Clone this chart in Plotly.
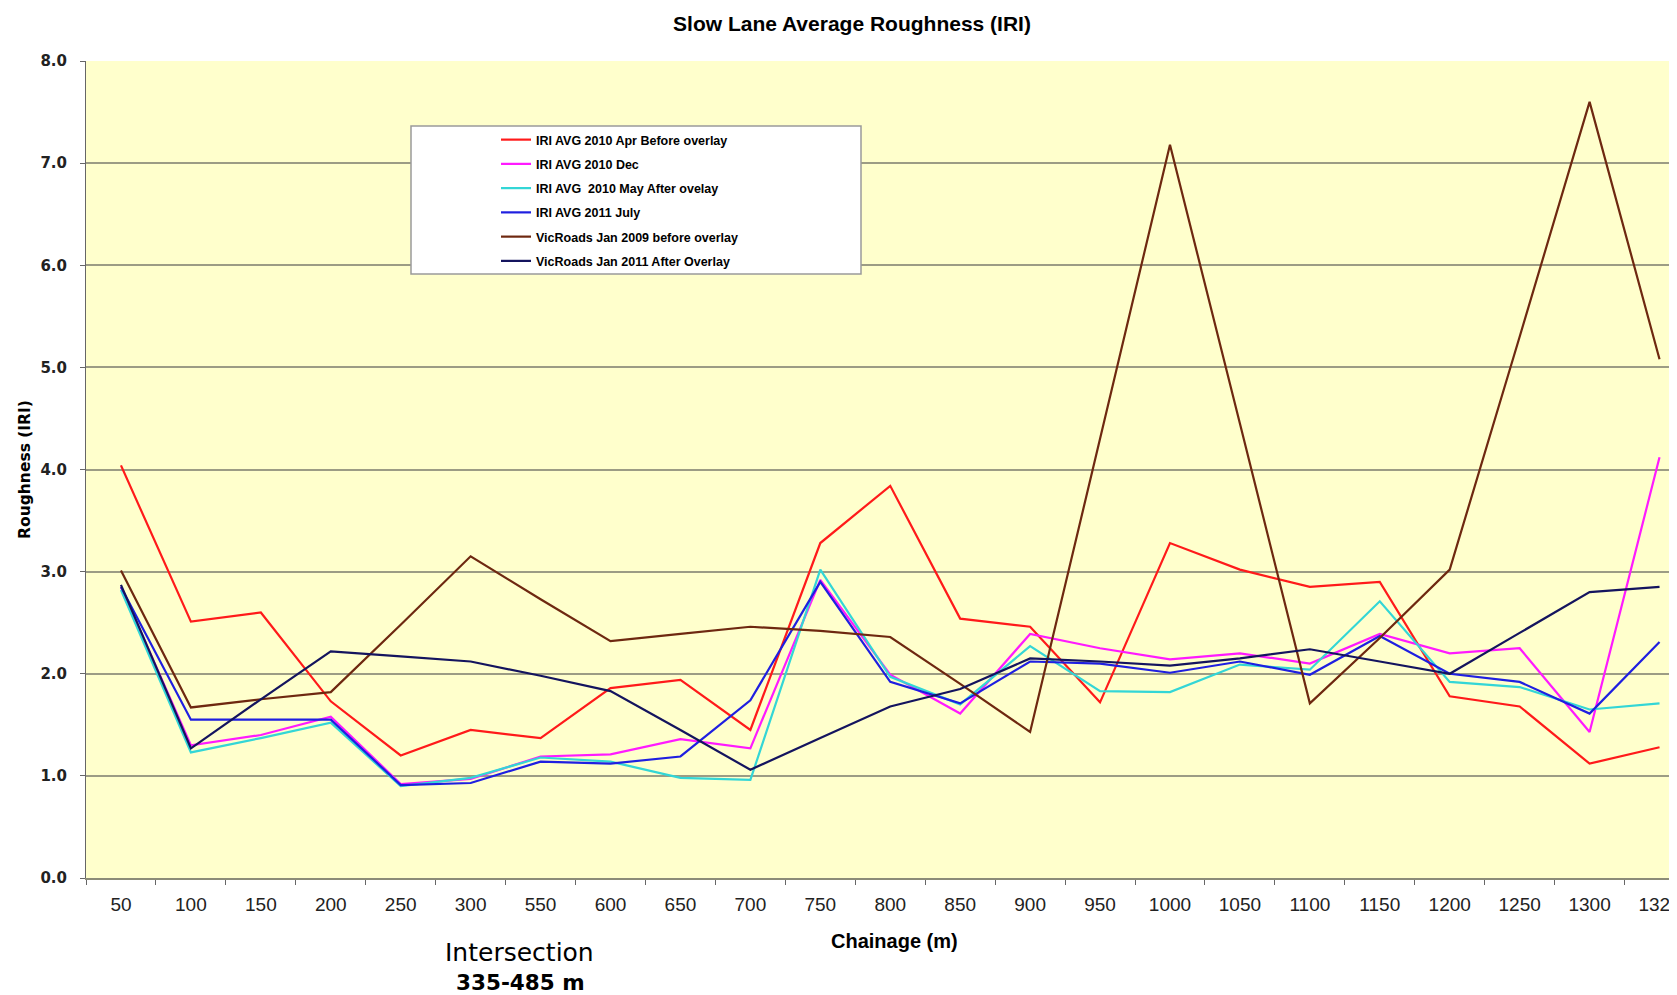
import plotly.graph_objects as go

chainage = ["50", "100", "150", "200", "250", "300", "550", "600", "650", "700", "750", "800",
            "850", "900", "950", "1000", "1050", "1100", "1150", "1200", "1250", "1300", "1326"]

iri_2010_apr = [4.04, 2.51, 2.60, 1.73, 1.20, 1.45, 1.37, 1.86, 1.94, 1.45, 3.28, 3.84,
                2.54, 2.46, 1.72, 3.28, 3.02, 2.85, 2.90, 1.78, 1.68, 1.12, 1.28]
iri_2010_dec = [2.85, 1.30, 1.40, 1.58, 0.92, 0.97, 1.19, 1.21, 1.36, 1.27, 2.92, 1.99,
                1.61, 2.39, 2.25, 2.14, 2.20, 2.10, 2.39, 2.20, 2.25, 1.43, 4.12]
iri_2010_may = [2.82, 1.23, 1.37, 1.52, 0.90, 0.98, 1.18, 1.14, 0.98, 0.96, 3.02, 1.97,
                1.70, 2.27, 1.83, 1.82, 2.09, 2.04, 2.71, 1.92, 1.87, 1.65, 1.71]
iri_2011_jul = [2.85, 1.55, 1.55, 1.55, 0.91, 0.93, 1.14, 1.12, 1.19, 1.74, 2.90, 1.92,
                1.71, 2.12, 2.10, 2.01, 2.12, 1.99, 2.37, 2.00, 1.92, 1.61, 2.31]
vic_2009_jan = [3.01, 1.67, 1.75, 1.82, 2.48, 3.15, 2.73, 2.32, 2.39, 2.46, 2.42, 2.36,
                1.90, 1.43, 4.30, 7.18, 4.45, 1.71, 2.35, 3.02, 5.30, 7.60, 5.08]
vic_2011_jan = [2.87, 1.27, 1.75, 2.22, 2.17, 2.12, 1.98, 1.83, 1.45, 1.06, 1.37, 1.68,
                1.85, 2.15, 2.12, 2.08, 2.15, 2.24, 2.12, 2.00, 2.40, 2.80, 2.85]

y_ticks = [0, 1, 2, 3, 4, 5, 6, 7, 8]

series = [
    ("IRI AVG 2010 Apr Before overlay", iri_2010_apr, "#FF1A1A"),
    ("IRI AVG 2010 Dec", iri_2010_dec, "#FF1AFF"),
    ("IRI AVG  2010 May After ovelay", iri_2010_may, "#33D6D6"),
    ("IRI AVG 2011 July", iri_2011_jul, "#1F1FE0"),
    ("VicRoads Jan 2009 before overlay", vic_2009_jan, "#6E2810"),
    ("VicRoads Jan 2011 After Overlay", vic_2011_jan, "#14145E"),
]

FONT = "Liberation Sans, Arial, sans-serif"
WIDE = "DejaVu Sans, Liberation Sans, sans-serif"

fig = go.Figure()
for i, (name, vals, col) in enumerate(series):
    fig.add_trace(go.Scatter(
        x=chainage, y=vals, name=f"<b>{name}</b>", mode="lines",
        line=dict(color=col, width=2.2), legendgroup=f"g{i}", legendrank=i + 1,
    ))

# page body has an 8px margin; work in reference pixel coords and shift
OFF = 8
W, H = 1677 - OFF, 995 - OFF
ml, mr, mt, mb = 86 - OFF, 0, 61 - OFF, 995 - 878
pw, ph = W - ml - mr, H - mt - mb

def px_x(x):
    return (x - OFF - ml) / pw

def px_y(y):
    return (H - mb - (y - OFF)) / ph

fig.update_layout(
    width=W, height=H,
    margin=dict(l=ml, r=mr, t=mt, b=mb, autoexpand=False),
    paper_bgcolor="white",
    plot_bgcolor="#FFFFCC",
    font=dict(family=FONT, color="black"),
    title=dict(text="<b>Slow Lane Average Roughness (IRI)</b>", x=(852 - OFF) / W, xanchor="center",
               y=1 - (24 - OFF) / H, yanchor="middle", font=dict(size=21, family=FONT)),
    showlegend=True,
    legend=dict(
        x=px_x(496), y=px_y(125), xanchor="left", yanchor="top",
        bgcolor="rgba(0,0,0,0)", borderwidth=0,
        font=dict(size=12.5, family=FONT, color="black"),
        tracegroupgap=5, itemwidth=30,
    ),
    shapes=[dict(
        type="rect", xref="paper", yref="paper",
        x0=px_x(411), x1=px_x(861), y0=px_y(274), y1=px_y(126),
        fillcolor="white", line=dict(color="#9a9a9a", width=1.5), layer="above",
    )],
    annotations=[
        dict(text="<b>Chainage (m)</b>", xref="paper", yref="paper",
             x=px_x(894), y=px_y(941), xanchor="center", yanchor="middle",
             showarrow=False, font=dict(size=20, family=FONT)),
        dict(text="Intersection", xref="paper", yref="paper",
             x=px_x(519), y=px_y(952), xanchor="center", yanchor="middle",
             showarrow=False, font=dict(size=25, family=WIDE)),
        dict(text="<b>335-485 m</b>", xref="paper", yref="paper",
             x=px_x(520), y=px_y(982), xanchor="center", yanchor="middle",
             showarrow=False, font=dict(size=21.5, family=WIDE)),
    ],
)

fig.update_xaxes(
    type="category", range=[-0.5, 22.25],
    tickson="boundaries", ticks="outside", ticklen=5, tickcolor="#666666",
    ticklabelstandoff=8,
    showgrid=False, showline=True, linecolor="#8c8c78", linewidth=2,
    tickfont=dict(size=19, family=FONT, color="#222222"),
    automargin=False, zeroline=False,
)
fig.update_yaxes(
    range=[0, 8], tickvals=y_ticks, ticktext=[f"<b>{v:.1f}</b>" for v in y_ticks],
    ticks="outside", ticklen=5, tickcolor="#666666",
    ticklabelstandoff=10,
    showgrid=True, gridcolor="#9c9c84", gridwidth=2,
    showline=True, linecolor="#666666", linewidth=1,
    tickfont=dict(size=15, family=WIDE, color="#222222"),
    title=dict(text="<b>Roughness (IRI)</b>", font=dict(size=15.5, family=WIDE), standoff=5),
    automargin=False, zeroline=False,
)

fig.write_html("out.html")
